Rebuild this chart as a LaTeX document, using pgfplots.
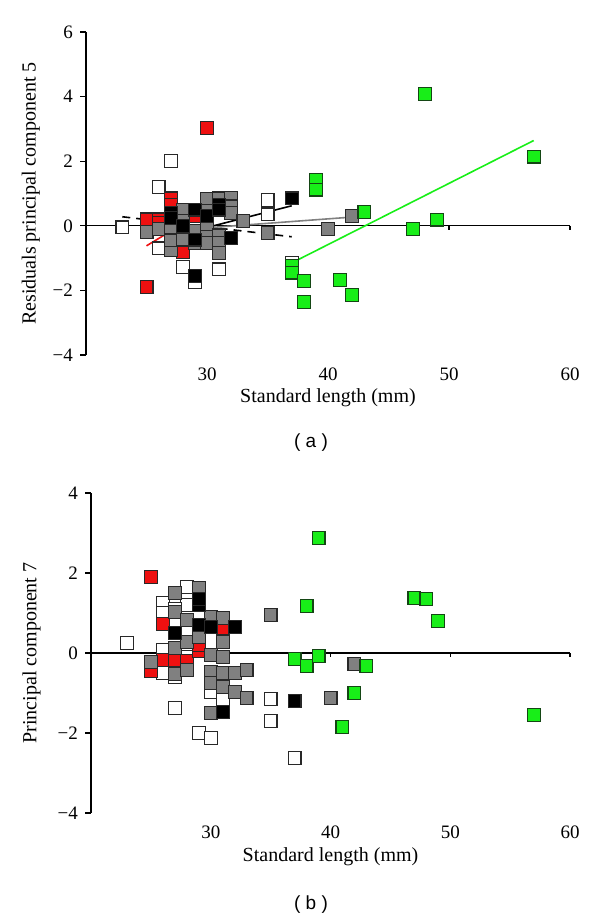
\documentclass[border=0pt]{standalone}
\usepackage{pgfplots}
\pgfplotsset{compat=1.18}
\usepackage{fontspec}
\setmainfont{Liberation Serif}
\newfontfamily\sansf{Liberation Sans}
\definecolor{mred}{RGB}{238,16,16}
\definecolor{mgreen}{RGB}{24,238,24}
\definecolor{mgray}{RGB}{128,128,128}
\definecolor{medge}{RGB}{40,40,40}
\definecolor{gedge}{RGB}{20,70,20}

\pgfplotsset{
 panel/.style={
  scale only axis,
  xmin=20, xmax=60,
  axis y line=left, axis x line=bottom,
  axis line style={-},
  x axis line style={draw=none},
  y axis line style={line width=0.6pt},
  xtick={30,40,50,60},
  major x tick style={draw=none},
  tick align=outside, major tick length=3pt,
  ytick style={line width=0.6pt, black},
  tick label style={font=\fontsize{9.5}{11}\selectfont},
  label style={font=\fontsize{9.5}{11}\selectfont},
  /pgf/number format/assume math mode=true,
  clip=false,
 },
 sq/.style={only marks, mark=square*, mark size=3.2pt, mark options={line width=0.6pt, draw=medge, fill=#1}},
 gsq/.style={only marks, mark=square*, mark size=3.2pt, mark options={line width=0.6pt, draw=gedge, fill=mgreen}},
}

\begin{document}
\begin{tikzpicture}
\path[use as bounding box] (0,0) rectangle (300pt,-459.5pt);

% ---------------- panel (a)
\begin{axis}[panel,
  at={(43pt,-177.5pt)}, anchor=south west,
  width=242pt, height=161.5pt,
  ymin=-4, ymax=6,
  ytick={-4,-2,0,2,4,6}, yticklabels={−4,−2,0,2,4,6},
  xlabel={Standard length (mm)},
  ylabel={Residuals principal component 5},
  every axis x label/.style={at={(axis description cs:0.5,-0.133)}, anchor=center},
  every axis y label/.style={at={(axis description cs:-0.114,0.5)}, rotate=90, anchor=center},
]
\addplot[black, line width=0.6pt] coordinates {(20,0) (60,0)};
\draw[line width=0.6pt] (axis cs:40,0) -- ([yshift=-2pt]axis cs:40,0);
\draw[line width=0.6pt] (axis cs:50,0) -- ([yshift=-2pt]axis cs:50,0);
\draw[line width=0.6pt] (axis cs:60,0) -- ([yshift=-2pt]axis cs:60,0);

% white
\addplot[sq=white] coordinates {
(23,-0.05) (26,1.2) (27,2.0) (26,-0.7) (28,-1.27) (29,-1.75) (31,-1.35)
(35,0.8) (35,0.35) (37,-1.15) (26,0.05) (29,-0.25) (30,-0.1) (27,0.1)
};
% red
\addplot[sq=mred] coordinates {
(25,0.2) (26,0.2) (26,0.1) (27,0.85) (27,0.65) (28,-0.82) (30,3.03) (25,-1.9) (29,0.3)
};
% gray
\addplot[sq=mgray] coordinates {
(25,-0.2) (26,-0.1) (27,-0.12) (27,-0.75) (27,-0.45) (28,0.5) (28,0.15) (28,-0.43)
(29,-0.53) (29,-0.15) (30,0.84) (30,0.45) (30,-0.03) (30,-0.35) (30,-0.53)
(31,0.85) (31,0.5) (31,-0.3) (31,-0.53) (31,-0.85) (32,0.87) (32,0.6) (32,0.4)
(33,0.15) (35,-0.22) (40,-0.1) (42,0.3)
};
% black
\addplot[sq=black] coordinates {
(27,0.4) (27,0.25) (29,-1.55) (29,0.5) (29,-0.43) (30,0.3) (31,0.65) (31,0.5)
(32,-0.37) (37,0.85) (28,0.0)
};
% green
\addplot[gsq] coordinates {
(37,-1.25) (37,-1.45) (38,-1.7) (38,-2.35) (39,1.43) (39,1.12) (41,-1.67)
(42,-2.15) (43,0.43) (47,-0.09) (48,4.08) (49,0.19) (57,2.14)
};
% regression lines
\addplot[mred, line width=0.8pt] coordinates {(25,-0.62) (31,0.74)};
\addplot[black, line width=0.8pt] coordinates {(27,-0.34) (37,0.62)};
\addplot[black, line width=0.8pt, dash pattern=on 4pt off 3pt] coordinates {(23,0.28) (37,-0.34)};
\addplot[mgray, line width=0.8pt] coordinates {(25,-0.2) (42,0.27)};
\addplot[mgreen, line width=0.8pt] coordinates {(37,-1.15) (57,2.64)};
\end{axis}
\node[font=\sansf\fontsize{9.5}{11}\selectfont] at (155.5pt,-221.5pt) {( a )};

% ---------------- panel (b)
\begin{axis}[panel,
  at={(45.5pt,-406.5pt)}, anchor=south west,
  width=239.5pt, height=160pt,
  ymin=-4, ymax=4,
  ytick={-4,-2,0,2,4}, yticklabels={−4,−2,0,2,4},
  xlabel={Standard length (mm)},
  ylabel={Principal component 7},
  every axis x label/.style={at={(axis description cs:0.5,-0.1375)}, anchor=center},
  every axis y label/.style={at={(axis description cs:-0.124,0.5)}, rotate=90, anchor=center},
]
\addplot[black, line width=0.6pt] coordinates {(20,0) (60,0)};
\draw[line width=0.6pt] (axis cs:40,0) -- ([yshift=-2pt]axis cs:40,0);
\draw[line width=0.6pt] (axis cs:50,0) -- ([yshift=-2pt]axis cs:50,0);
\draw[line width=0.6pt] (axis cs:60,0) -- ([yshift=-2pt]axis cs:60,0);

% white
\addplot[sq=white] coordinates {
(23,0.25) (26,1.25) (26,1.0) (26,0.08) (26,-0.5) (27,-1.38) (28,1.65) (28,1.2)
(28,-0.1) (29,-2.0) (30,-2.12) (30,-0.97) (31,-1.17) (35,-1.15) (35,-1.7)
(37,-2.63) (27,1.1) (27,-0.6)
};
% red
\addplot[sq=mred] coordinates {
(25,1.9) (25,-0.45) (26,0.72) (26,-0.18) (27,-0.18) (28,-0.2) (29,0.05) (29,0.2) (31,0.62)
};
% gray
\addplot[sq=mgray] coordinates {
(25,-0.22) (27,1.5) (27,1.02) (27,0.12) (27,-0.52) (28,0.82) (28,0.28) (28,-0.43)
(29,1.62) (29,0.4) (30,0.9) (30,-0.05) (30,-0.47) (30,-0.75) (30,-1.5)
(31,0.87) (31,0.27) (31,-0.1) (31,-0.5) (31,-0.85) (32,-0.5) (32,-0.97)
(33,-0.42) (33,-1.12) (35,0.95) (40,-1.12) (42,-0.28)
};
% black
\addplot[sq=black] coordinates {
(27,0.5) (29,1.2) (29,1.35) (29,0.7) (30,0.65) (31,-1.47) (32,0.65) (37,-1.2)
};
% green
\addplot[gsq] coordinates {
(37,-0.15) (38,-0.33) (39,-0.07) (38,1.18) (39,2.87) (41,-1.85) (42,-1.0)
(43,-0.32) (47,1.38) (48,1.35) (49,0.8) (57,-1.55)
};
\end{axis}
\node[font=\sansf\fontsize{9.5}{11}\selectfont] at (155.5pt,-452.5pt) {( b )};
\end{tikzpicture}
\end{document}
